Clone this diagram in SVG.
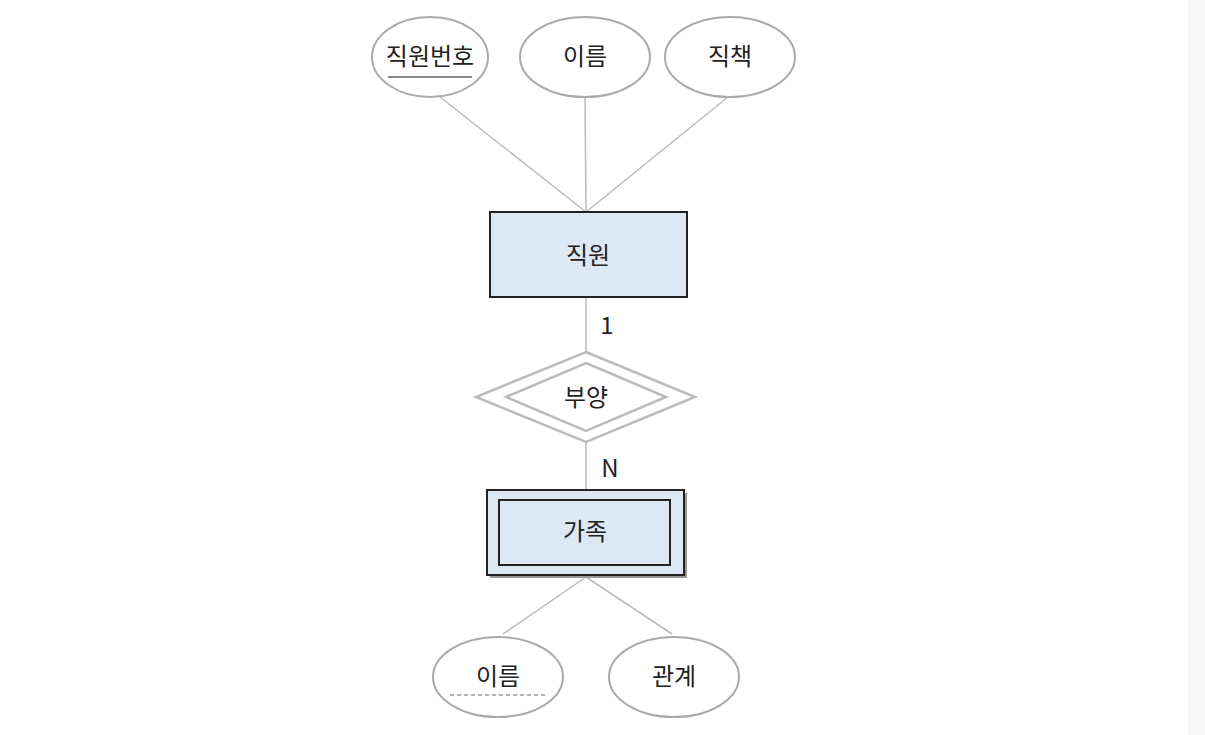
<svg xmlns="http://www.w3.org/2000/svg" width="1205" height="735" viewBox="0 0 1205 735">
<style>
.attr{fill:#fff;stroke:#aaa;stroke-width:2}
.ent{fill:#dce8f4;stroke:#222;stroke-width:2}
.rel{fill:#fff;stroke:#bbb;stroke-width:2.5}
.ln{stroke:#bbb;stroke-width:1.5;fill:none}
text{font-family:"Noto Sans CJK KR","Noto Sans",sans-serif;font-size:24px;fill:#222;text-anchor:middle}
</style>
<rect width="1205" height="735" fill="#fff"/>
<rect x="1188" y="0" width="17" height="735" fill="#f7f7f7"/>
<g id="connectors">
<line class="ln" x1="440" y1="97" x2="586" y2="212"/>
<line class="ln" x1="585" y1="97" x2="586" y2="212"/>
<line class="ln" x1="728" y1="97" x2="586" y2="212"/>
<line class="ln" x1="586" y1="297" x2="586" y2="352"/>
<line class="ln" x1="586" y1="442" x2="586" y2="490"/>
<line class="ln" x1="586" y1="577" x2="503" y2="634"/>
<line class="ln" x1="586" y1="577" x2="672" y2="634"/>
<text x="607" y="334">1</text>
<text x="610" y="477">N</text>
</g>
<g id="attr-empno"><ellipse class="attr" cx="430" cy="57" rx="58" ry="40"/><text x="430" y="65">직원번호</text><line x1="388" y1="77" x2="472" y2="77" stroke="#888" stroke-width="2"/></g>
<g id="attr-name"><ellipse class="attr" cx="585" cy="57" rx="65" ry="40"/><text x="585" y="65">이름</text></g>
<g id="attr-title"><ellipse class="attr" cx="730" cy="57" rx="65" ry="40"/><text x="730" y="65">직책</text></g>
<g id="entity-employee"><rect class="ent" x="490" y="212" width="197" height="85"/><text x="588" y="264">직원</text></g>
<g id="rel-dependent"><polygon class="rel" points="586,352 695,397 586,442 476,397"/><polygon class="rel" points="586,363 666,397 586,431 506,397"/><text x="586" y="406">부양</text></g>
<g id="entity-family"><rect x="490" y="493" width="197" height="85" fill="#999"/><rect class="ent" x="487" y="490" width="197" height="85"/><rect class="ent" x="499" y="500" width="171" height="65"/><text x="585" y="540">가족</text></g>
<g id="attr-fname"><ellipse class="attr" cx="498" cy="677" rx="65" ry="40"/><text x="498" y="685">이름</text><line x1="450" y1="695" x2="546" y2="695" stroke="#999" stroke-width="1.5" stroke-dasharray="4,3"/></g>
<g id="attr-relation"><ellipse class="attr" cx="674" cy="677" rx="65" ry="40"/><text x="674" y="685">관계</text></g>
</svg>
